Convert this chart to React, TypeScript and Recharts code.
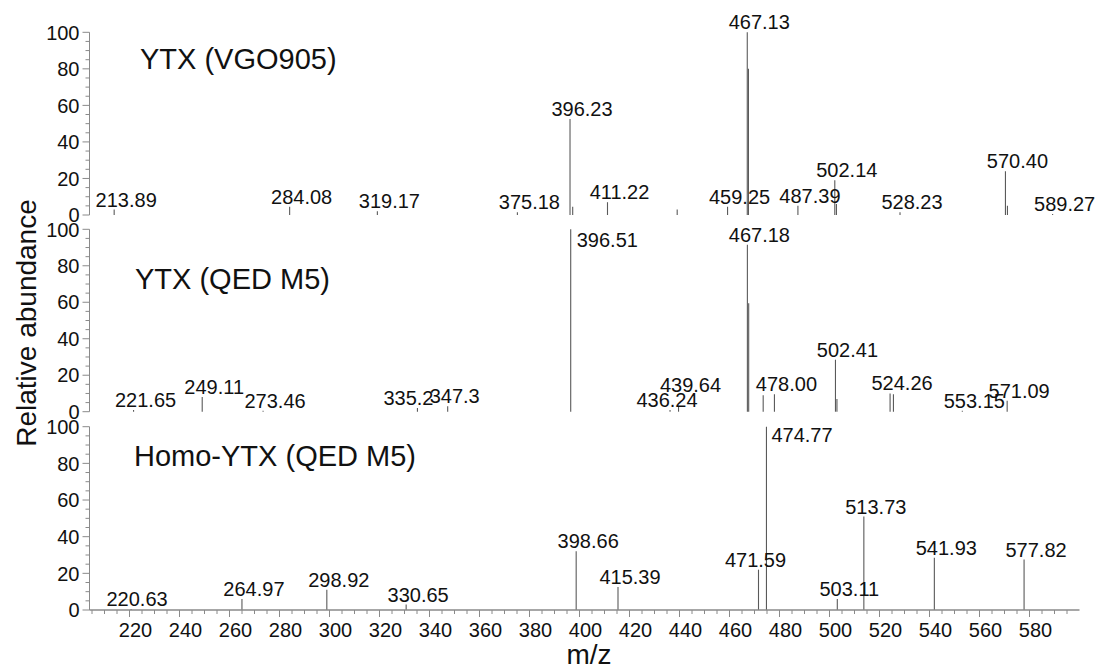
import React from "react";
import { BarChart, Bar, XAxis, YAxis, LabelList, Customized } from "recharts";

const FONT = "'Liberation Sans', Arial, Helvetica, sans-serif";

// YTX (VGO905)
const vgoMz = [213.89, 284.08, 319.17, 375.18, 396.23, 397.3, 411.22, 439.1, 459.25, 467.13, 467.6, 487.39, 502.14, 502.8, 528.23, 570.4, 571.2, 589.27];
const vgoAbund = [3, 4.5, 2, 1.5, 52.5, 4.5, 7, 3, 4.5, 100, 80, 5, 19, 6, 1.5, 24, 5, 0.6];
const vgoLabels = ["213.89", "284.08", "319.17", "375.18", "396.23", "", "411.22", "", "459.25", "467.13", "", "487.39", "502.14", "", "528.23", "570.40", "", "589.27"];

// YTX (QED M5)
const qedMz = [221.65, 249.11, 273.46, 335.2, 347.3, 396.51, 436.24, 439.64, 467.18, 467.7, 473.5, 478.0, 502.41, 503.0, 524.26, 525.6, 553.15, 571.09];
const qedAbund = [1, 8, 0.5, 2, 3, 100, 1, 3, 91.5, 59.5, 9, 9.5, 28.5, 7, 10, 9.5, 0.5, 6];
const qedLabels = ["221.65", "249.11", "273.46", "335.2", "347.3", "396.51", "436.24", "439.64", "467.18", "", "", "478.00", "502.41", "", "524.26", "", "553.15", "571.09"];

// Homo-YTX (QED M5)
const homoMz = [220.63, 264.97, 298.92, 330.65, 398.66, 415.39, 471.59, 474.77, 503.11, 513.73, 541.93, 577.82];
const homoAbund = [0.5, 6, 11, 3, 32, 12.5, 22, 100, 6, 51, 28.5, 27.5];
const homoLabels = ["220.63", "264.97", "298.92", "330.65", "398.66", "415.39", "471.59", "474.77", "503.11", "513.73", "541.93", "577.82"];

const xMajor = [220, 240, 260, 280, 300, 320, 340, 360, 380, 400, 420, 440, 460, 480, 500, 520, 540, 560, 580];
const yMajor = [0, 20, 40, 60, 80, 100];

const xTicks: number[] = [];
for (let v = 205; v <= 595; v += 5) xTicks.push(v);
const yTicks: number[] = [];
for (let v = 0; v <= 100; v += 5) yTicks.push(v);

const toRows = (mz: number[], ab: number[], labels: string[]) =>
  mz.map((m, i) => ({ mz: m, ab: ab[i], label: labels[i] }));

// label placement tweaks (the original software shuffles some labels to avoid overlap)
type Nudge = { dx?: number; dy?: number; anchor?: "start" | "middle" | "end" };
const nudges: Record<string, Nudge> = {
  "335.2": { dx: -9 },
  "347.3": { dx: 7 },
  "436.24": { dx: -3 },
  "439.64": { dy: -14 },
  "396.51": { dx: 6, dy: 18, anchor: "start" },
  "474.77": { dx: 5, dy: 15, anchor: "start" },
  "471.59": { dx: -3 },
  "220.63": { dx: 6 },
};

const AXIS = "#8a8a8a";
const PEAK = "#5a5a5a";

const PeakLine = (props: any) => {
  const { x, y, width, height } = props;
  const cx = x + width / 2;
  return <line x1={cx} x2={cx} y1={y} y2={y + height} stroke={PEAK} strokeWidth={1.1} />;
};

const PeakLabel = (props: any) => {
  const { x, y, width, value } = props;
  if (!value) return null;
  const n = nudges[value] || {};
  const cx = Number(x) + Number(width) / 2;
  return (
    <text
      x={cx + (n.dx ?? 12)}
      y={Number(y) + (n.dy ?? -3)}
      textAnchor={n.anchor ?? "middle"}
      fontSize={20}
      fontFamily={FONT}
      fill="#111"
    >
      {value}
    </text>
  );
};

const YTick = (props: any) => {
  const { x, y, payload } = props;
  const v = payload.value;
  const major = yMajor.includes(v);
  return (
    <g>
      <line x1={x - (major ? 7 : 4)} x2={x} y1={y} y2={y} stroke={AXIS} />
      {major && (
        <text x={x - 10} y={y} dy="0.36em" textAnchor="end" fontSize={20} fontFamily={FONT} fill="#111">
          {v}
        </text>
      )}
    </g>
  );
};

const XTick = (props: any) => {
  const { x, y, payload } = props;
  const v = payload.value;
  const major = xMajor.includes(v);
  return (
    <g>
      <line x1={x} x2={x} y1={y} y2={y + (major ? 7 : 4)} stroke={AXIS} />
      {major && (
        <text x={x + 6} y={y + 27} textAnchor="middle" fontSize={20} fontFamily={FONT} fill="#111">
          {v}
        </text>
      )}
    </g>
  );
};

type PanelProps = {
  title: string;
  rows: { mz: number; ab: number; label: string }[];
  top: number;
  height: number;
  marginTop: number;
  marginBottom: number;
  titleX: number;
  titleY: number;
  bottomAxis?: boolean;
  yTitle?: boolean;
};

function Panel(p: PanelProps) {
  return (
    <div style={{ position: "absolute", left: 0, top: p.top }}>
      <BarChart
        width={1099}
        height={p.height}
        data={p.rows}
        margin={{ top: p.marginTop, bottom: p.marginBottom, left: 0, right: 19.5 }}
      >
        <XAxis
          type="number"
          dataKey="mz"
          domain={[204, 600]}
          ticks={p.bottomAxis ? xTicks : []}
          interval={0}
          tick={p.bottomAxis ? <XTick /> : false}
          tickLine={false}
          tickSize={0}
          tickMargin={0}
          height={p.bottomAxis ? 60 : 0}
          axisLine={{ stroke: AXIS, strokeWidth: 1.4 }}
          allowDataOverflow
        />
        <YAxis
          type="number"
          domain={[0, 100]}
          ticks={yTicks}
          interval={0}
          tick={<YTick />}
          tickLine={false}
          tickSize={0}
          tickMargin={0}
          width={89.5}
          axisLine={{ stroke: AXIS }}
        />
        <Bar dataKey="ab" barSize={2} shape={<PeakLine />} isAnimationActive={false}>
          <LabelList dataKey="label" content={<PeakLabel />} />
        </Bar>
        <Customized
          component={() => (
            <g>
              <text x={p.titleX} y={p.titleY} fontSize={29} fontFamily={FONT} fill="#111">
                {p.title}
              </text>
              {p.yTitle && (
                <text
                  x={26}
                  y={143}
                  transform="rotate(-90 26 143)"
                  textAnchor="middle"
                  dominantBaseline="central"
                  fontSize={28}
                  fontFamily={FONT}
                  fill="#111"
                >
                  Relative abundance
                </text>
              )}
              {p.bottomAxis && (
                <text x={589} y={264} textAnchor="middle" fontSize={28} fontFamily={FONT} fill="#111">
                  m/z
                </text>
              )}
            </g>
          )}
        />
      </BarChart>
    </div>
  );
}

export default function App() {
  return (
    <div style={{ position: "relative", width: 1099, height: 670, background: "#fff", overflow: "hidden" }}>
      <style>{`body{margin:0}`}</style>
      <Panel
        title="YTX (VGO905)"
        rows={toRows(vgoMz, vgoAbund, vgoLabels)}
        top={0}
        height={240}
        marginTop={32.3}
        marginBottom={25}
        titleX={140}
        titleY={69}
      />
      <Panel
        title="YTX (QED M5)"
        rows={toRows(qedMz, qedAbund, qedLabels)}
        top={180}
        height={280}
        marginTop={49.3}
        marginBottom={48.3}
        titleX={135}
        titleY={109}
        yTitle
      />
      <Panel
        title="Homo-YTX (QED M5)"
        rows={toRows(homoMz, homoAbund, homoLabels)}
        top={400}
        height={270}
        marginTop={26.7}
        marginBottom={0}
        titleX={134}
        titleY={66}
        bottomAxis
      />
    </div>
  );
}
